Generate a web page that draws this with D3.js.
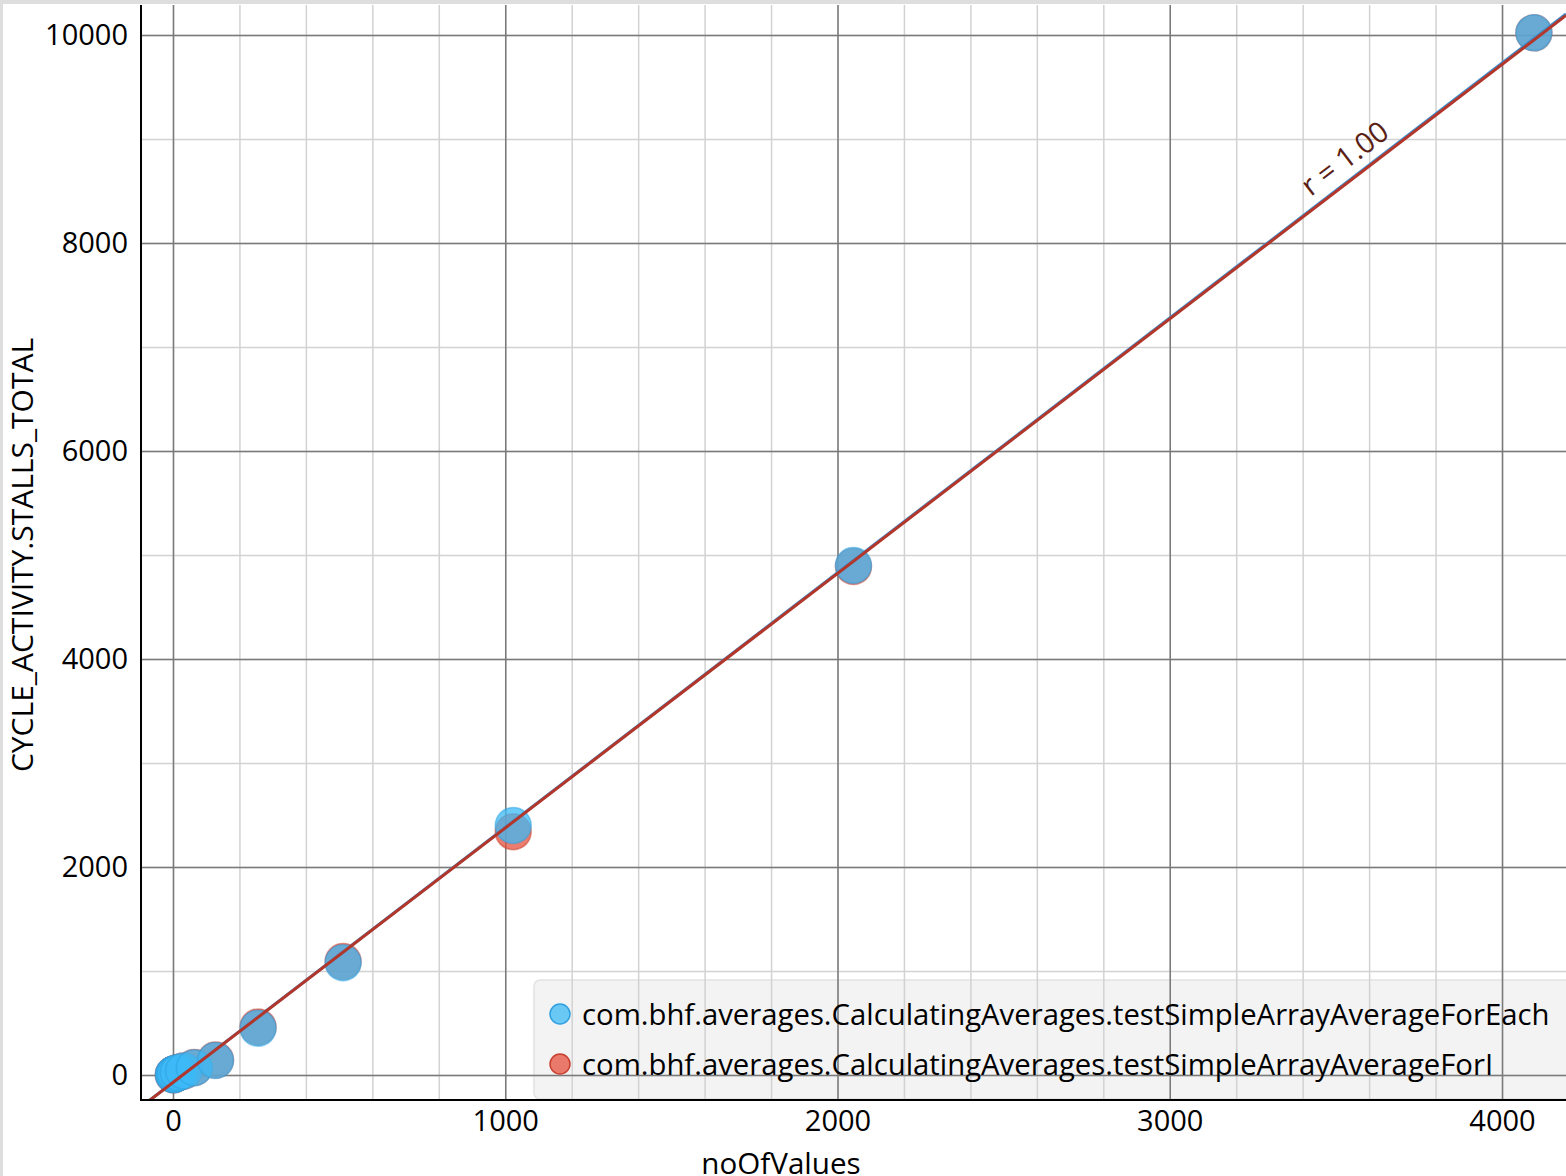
<!DOCTYPE html>
<head>
<meta charset="utf-8">
<title>CYCLE_ACTIVITY.STALLS_TOTAL vs noOfValues</title>
<style>
html, body {
  margin: 0;
  padding: 0;
  background: #fff;
}
body {
  font-family: 'Open Sans', sans-serif;
}
.minor line { stroke: #d2d2d2; stroke-width: 1.5px; }
.major line { stroke: #7a7a7a; stroke-width: 1.5px; }
.tick text { font-size: 29px; fill: #000; }
.legend text { font-size: 29.3px; fill: #000; }
</style>
</head>
<body>
<svg width="1566" height="1176"></svg>
<script src="https://d3js.org/d3.v7.min.js"></script>
<script>
var series = ["com.bhf.averages.CalculatingAverages.testSimpleArrayAverageForEach",
              "com.bhf.averages.CalculatingAverages.testSimpleArrayAverageForI"];
var noOfValues = [1, 2, 4, 8, 16, 32, 64, 128, 256, 512, 1024, 2048, 4096];
var stallsForEach = [3, 5, 8, 14, 25, 40, 70, 140, 450, 1080, 2400, 4900, 10020];
var stallsForI    = [3, 5, 8, 14, 25, 40, 72, 145, 462, 1092, 2340, 4890, 10020];
var xTicks = [0, 1000, 2000, 3000, 4000];
var yTicks = [0, 2000, 4000, 6000, 8000, 10000];

var svg = d3.select("svg"),
    width = +svg.attr("width"),
    height = +svg.attr("height");

// plot box (note: "top" is taken by window.top)
var pLeft = 141, pTop = 5, pRight = 1566, pBottom = 1100;

var x = d3.scaleLinear().domain([-96.3, 4192.6]).range([pLeft, pRight]);
var y = d3.scaleLinear().domain([-240, 10288]).range([pBottom, pTop]);

var fills   = ["#3cb9f5", "#e6503c"],
    strokes = ["#2f9fe0", "#c8402e"],
    lines   = ["#3b8fd0", "#b3362a"];

// page frame
svg.append("rect").attr("x", 0).attr("y", 0).attr("width", width).attr("height", 4).attr("fill", "#dedede");
svg.append("rect").attr("x", 0).attr("y", 0).attr("width", 3).attr("height", height).attr("fill", "#dedede");

svg.append("clipPath").attr("id", "plot")
  .append("rect").attr("x", pLeft).attr("y", pTop).attr("width", pRight - pLeft).attr("height", pBottom - pTop);

// legend box sits under the grid, grid shows through it
svg.append("rect")
  .attr("x", 534).attr("y", 980).attr("width", 1100).attr("height", 119).attr("rx", 6)
  .attr("fill", "#f3f3f3")
  .attr("stroke", "#e2e2e2").attr("stroke-width", 1.5);

// grid
var grid = svg.append("g").attr("clip-path", "url(#plot)");
grid.append("g").attr("class", "minor")
  .attr("transform", "translate(0," + pBottom + ")")
  .call(d3.axisBottom(x).tickValues(d3.range(-200, 4400, 200)).tickSize(-(pBottom - pTop)).tickFormat(""))
  .call(function(g) { g.select(".domain").remove(); });
grid.append("g").attr("class", "minor")
  .attr("transform", "translate(" + pLeft + ",0)")
  .call(d3.axisLeft(y).tickValues(d3.range(-1000, 11000, 1000)).tickSize(-(pRight - pLeft)).tickFormat(""))
  .call(function(g) { g.select(".domain").remove(); });
grid.append("g").attr("class", "major")
  .attr("transform", "translate(0," + pBottom + ")")
  .call(d3.axisBottom(x).tickValues(xTicks).tickSize(-(pBottom - pTop)).tickFormat(""))
  .call(function(g) { g.select(".domain").remove(); });
grid.append("g").attr("class", "major")
  .attr("transform", "translate(" + pLeft + ",0)")
  .call(d3.axisLeft(y).tickValues(yTicks).tickSize(-(pRight - pLeft)).tickFormat(""))
  .call(function(g) { g.select(".domain").remove(); });

// tick labels
svg.append("g")
  .attr("transform", "translate(0," + pBottom + ")")
  .call(d3.axisBottom(x).tickValues(xTicks).tickSize(0).tickPadding(10).tickFormat(d3.format("d")))
  .call(function(g) { g.select(".domain").remove(); g.attr("font-family", null); g.attr("font-size", null); });
svg.append("g")
  .attr("transform", "translate(" + pLeft + ",0)")
  .call(d3.axisLeft(y).tickValues(yTicks).tickSize(0).tickPadding(13).tickFormat(d3.format("d")))
  .call(function(g) { g.select(".domain").remove(); g.attr("font-family", null); g.attr("font-size", null); });

// least squares fit for each series
function fit(xs, ys) {
  var mx = d3.mean(xs), my = d3.mean(ys), sxy = 0, sxx = 0, syy = 0;
  xs.forEach(function(v, i) {
    sxy += (v - mx) * (ys[i] - my);
    sxx += (v - mx) * (v - mx);
    syy += (ys[i] - my) * (ys[i] - my);
  });
  var b = sxy / sxx;
  return {slope: b, intercept: my - b * mx, r: sxy / Math.sqrt(sxx * syy)};
}

var data = [stallsForI, stallsForEach]; // ForI drawn first, ForEach over it
var colorIdx = [1, 0];
var plot = svg.append("g").attr("clip-path", "url(#plot)");

data.forEach(function(ys, k) {
  var c = colorIdx[k];
  plot.selectAll(null)
    .data(noOfValues.map(function(v, i) { return [v, ys[i]]; }))
    .enter().append("circle")
      .attr("cx", function(d) { return x(d[0]); })
      .attr("cy", function(d) { return y(d[1]); })
      .attr("r", 18)
      .attr("fill", fills[c])
      .attr("fill-opacity", 0.75)
      .attr("stroke", strokes[c])
      .attr("stroke-opacity", 0.5)
      .attr("stroke-width", 1.5);
});

var fits = [fit(noOfValues, stallsForEach), fit(noOfValues, stallsForI)];
[0, 1].forEach(function(c) {
  var f = fits[c], xd = x.domain();
  plot.append("line")
    .attr("x1", x(xd[0])).attr("y1", y(f.intercept + f.slope * xd[0]))
    .attr("x2", x(xd[1])).attr("y2", y(f.intercept + f.slope * xd[1]))
    .attr("stroke", lines[c])
    .attr("stroke-width", 3);
});

// r label along the line
var f = fits[1], lx = 3565;
var px = x(lx), py = y(f.intercept + f.slope * lx);
var ang = Math.atan2(y(f.slope * 1000) - y(0), x(1000) - x(0)) * 180 / Math.PI;
svg.append("text")
  .attr("transform", "translate(" + px + "," + py + ") rotate(" + ang + ") translate(0,-11)")
  .attr("text-anchor", "middle")
  .attr("font-size", 29)
  .attr("fill", "#5a1e14")
  .text("r = " + d3.format(".2f")(fits[0].r));

// axis lines
svg.append("line").attr("x1", pLeft).attr("x2", pLeft).attr("y1", pTop).attr("y2", pBottom + 1)
  .attr("stroke", "#000").attr("stroke-width", 2);
svg.append("line").attr("x1", pLeft).attr("x2", pRight).attr("y1", pBottom).attr("y2", pBottom)
  .attr("stroke", "#000").attr("stroke-width", 2);

// axis titles
svg.append("text")
  .attr("x", 781).attr("y", 1174)
  .attr("text-anchor", "middle")
  .attr("font-size", 29.6)
  .text("noOfValues");
svg.append("text")
  .attr("transform", "translate(33,555) rotate(-90)")
  .attr("text-anchor", "middle")
  .attr("font-size", 30)
  .text("CYCLE_ACTIVITY.STALLS_TOTAL");

// legend entries
var legend = svg.append("g").attr("class", "legend");
series.forEach(function(s, i) {
  var row = legend.append("g").attr("transform", "translate(0," + (1014 + i * 50) + ")");
  row.append("circle").attr("cx", 560).attr("cy", 0).attr("r", 10)
    .attr("fill", fills[i]).attr("fill-opacity", 0.75)
    .attr("stroke", strokes[i]).attr("stroke-width", 1.5);
  row.append("text").attr("x", 582).attr("y", 11).text(s);
});
</script>
</body>
